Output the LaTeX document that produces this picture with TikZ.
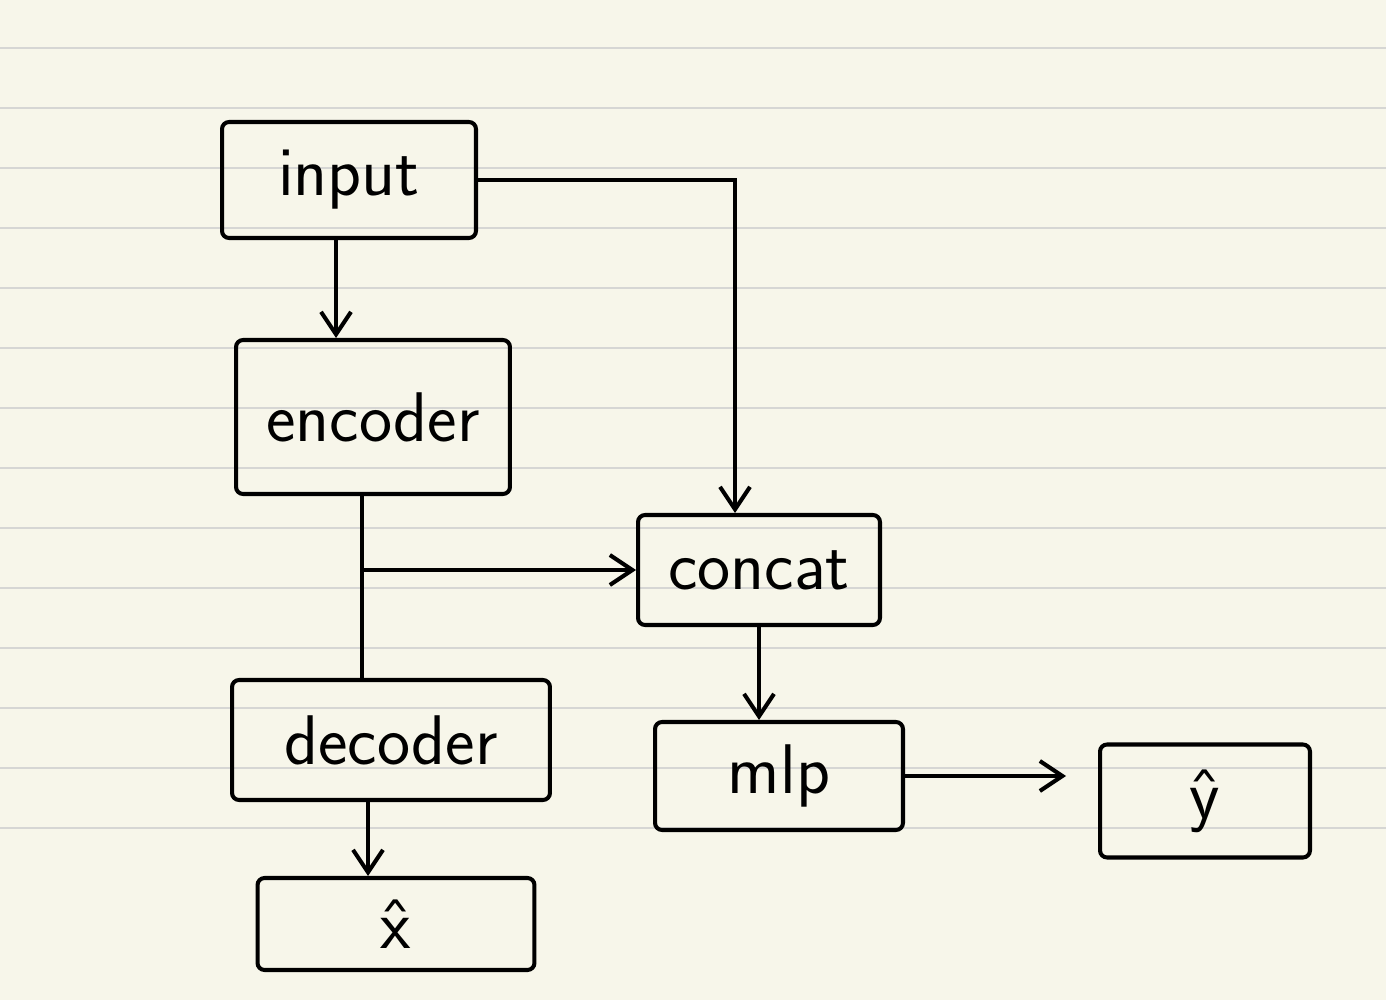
\documentclass[tikz,border=0pt]{standalone}
\usepackage{fontspec}
\usetikzlibrary{arrows.meta}

\definecolor{paper}{HTML}{F7F6EA}
\definecolor{ruling}{HTML}{D6D6D4}

\tikzset{
	box/.style={draw, line width=2.3pt, rounded corners=4pt, inner sep=0pt,
		font=\sffamily\fontsize{40}{44}\selectfont},
	arr/.style={line width=2.3pt, -{Straight Barb[length=0.45cm, width=0.6cm, line width=2.3pt]}},
	link/.style={line width=2.3pt},
	rule/.style={ruling, line width=0.8pt}
}

\begin{document}
\begin{tikzpicture}[x=0.02cm, y=-0.02cm]
		\fill [paper] (0,0) rectangle (1386,1000);
		\useasboundingbox (0,0) rectangle (1386,1000);
		\foreach \y in {48,108,...,828}
			\draw [rule] (0,\y) -- (1386,\y);

		\node [box, minimum width=5.08cm, minimum height=2.32cm] (input) at (349,180) {input};
		\node [box, minimum width=5.48cm, minimum height=3.08cm] (encoder) at (373,417) {encoder};
		\node [box, minimum width=4.84cm, minimum height=2.2cm] (concat) at (759,570) {concat};
		\node [box, minimum width=6.36cm, minimum height=2.4cm] (decoder) at (391,740) {decoder};
		\node [box, minimum width=5.54cm, minimum height=1.84cm] (xhat) at (396,924) {\^{x}};
		\node [box, minimum width=4.96cm, minimum height=2.16cm] (mlp) at (779,776) {mlp};
		\node [box, minimum width=4.2cm, minimum height=2.26cm] (yhat) at (1205,801) {\^{y}};

		\draw [arr] ([xshift=-0.26cm]input.south) -- ([xshift=-0.26cm]input.south |- encoder.north);
		\draw [arr] (input.east) -| ([xshift=-0.48cm]concat.north);
		\draw [link] ([xshift=-0.22cm]encoder.south) -- ([xshift=-0.22cm]encoder.south |- decoder.north);
		\coordinate (split) at ([xshift=-0.22cm]encoder.south |- concat.west);
		\draw [arr] (split) -- (concat.west);
		\draw [arr] ([xshift=-0.46cm]decoder.south) -- ([xshift=-0.46cm]decoder.south |- xhat.north);
		\draw [arr] (concat.south) -- (concat.south |- mlp.north);
		\draw [arr, shorten >=0.64cm] (mlp.east) -- (mlp.east -| yhat.west);
	\end{tikzpicture}
\end{document}
